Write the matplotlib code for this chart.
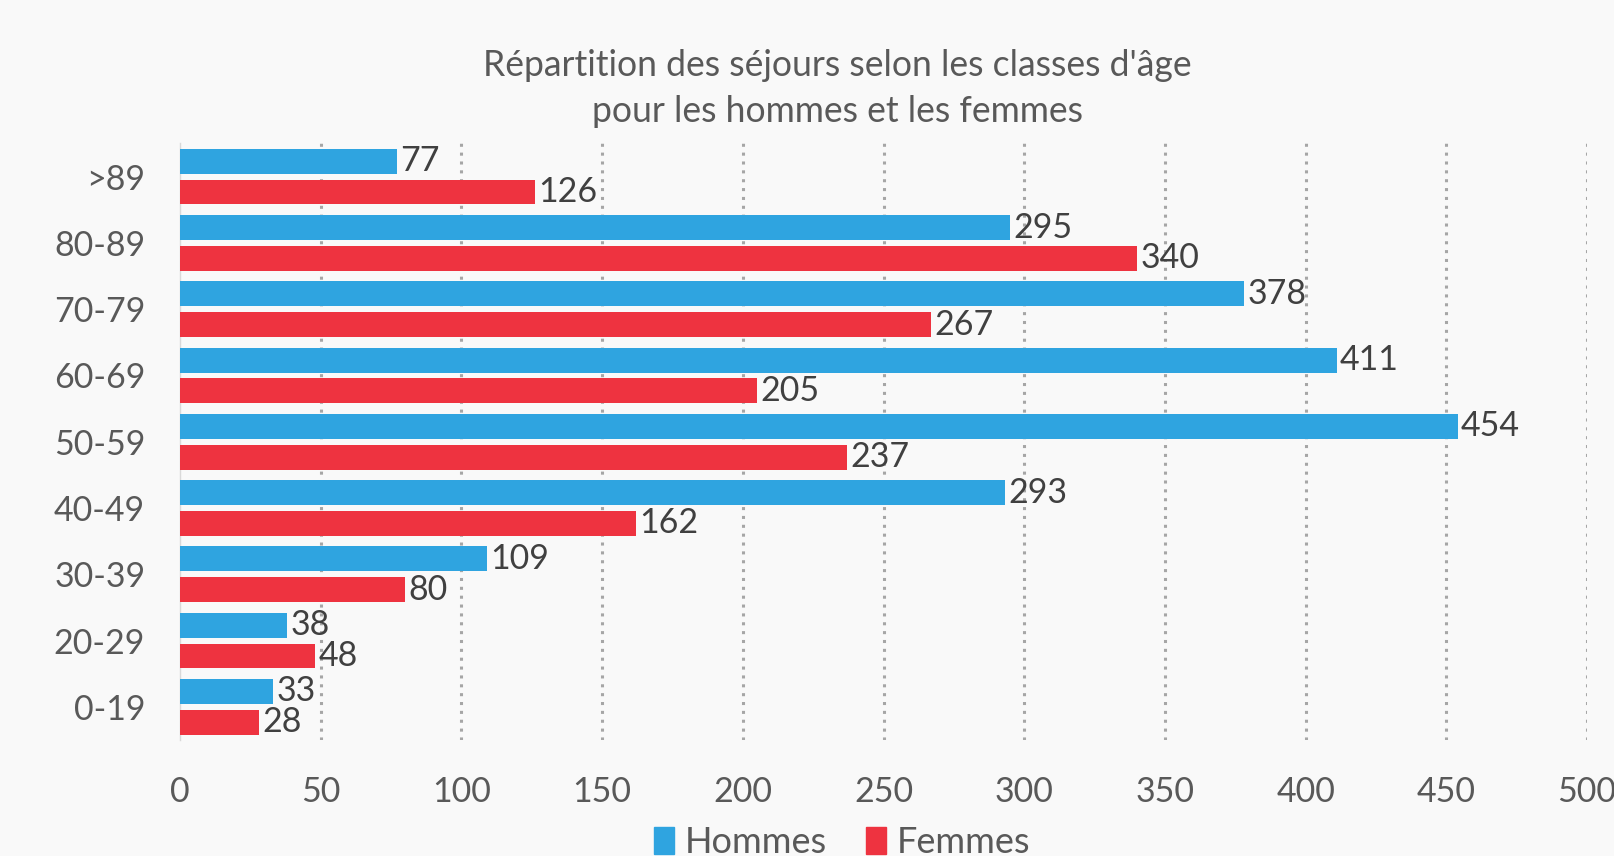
import matplotlib.pyplot as plt
import numpy as np
from matplotlib.patches import Patch

plt.rcParams['font.family'] = ['Lato', 'DejaVu Sans']

# data
categories = ['0-19', '20-29', '30-39', '40-49', '50-59', '60-69', '70-79', '80-89', '>89']
hommes = [33, 38, 109, 293, 454, 411, 378, 295, 77]
femmes = [28, 48, 80, 162, 237, 205, 267, 340, 126]
x_ticks = [0, 50, 100, 150, 200, 250, 300, 350, 400, 450, 500]

blue = '#2FA4E0'
red = '#EE3340'
bg = '#F9F9F9'

fig = plt.figure(figsize=(16.14, 8.56), dpi=100, facecolor=bg)
ax = fig.add_axes([0.1115, 0.1355, 0.9833 - 0.1115, 0.8324 - 0.1355], facecolor=bg)

y = np.arange(len(categories))
h = 0.375
off = 0.232
b1 = ax.barh(y + off, hommes, height=h, color=blue, zorder=3)
b2 = ax.barh(y - off, femmes, height=h, color=red, zorder=3)

for bars, vals in ((b1, hommes), (b2, femmes)):
    for bar, v in zip(bars, vals):
        ax.text(v + 1.2, bar.get_y() + bar.get_height() / 2, str(v),
                va='center', ha='left', fontsize=24.5, color='#404040', zorder=4)

ax.set_xlim(0, 500)
ax.set_ylim(-0.5, len(categories) - 0.5)
ax.set_xticks(x_ticks)
ax.set_yticks(y)
ax.set_yticklabels(categories)
ax.tick_params(axis='both', length=0, labelsize=24.5, labelcolor='#595959')
ax.tick_params(axis='x', pad=26)
ax.tick_params(axis='y', pad=25)

for xv in x_ticks[1:]:
    ax.axvline(xv, color='#A6A6A6', lw=2.2, linestyle=(0, (1, 1.9)), zorder=1)

for s in ['top', 'right', 'bottom']:
    ax.spines[s].set_visible(False)
ax.spines['left'].set_color('#D9D9D9')
ax.spines['left'].set_linewidth(1)

fig.text(0.5186, 0.8966, "Répartition des séjours selon les classes d'âge\npour les hommes et les femmes",
         ha='center', va='center', fontsize=25.6, color='#595959', linespacing=1.48)

handles = [Patch(color=blue, label='Hommes'), Patch(color=red, label='Femmes')]
fig.legend(handles=handles, loc='center', bbox_to_anchor=(0.5217, 0.0155), ncol=2,
           frameon=False, fontsize=26, labelcolor='#595959', handlelength=0.55,
           handleheight=0.8, handletextpad=0.3, columnspacing=1.1)

fig.savefig('out.png', dpi=100, facecolor=bg)
